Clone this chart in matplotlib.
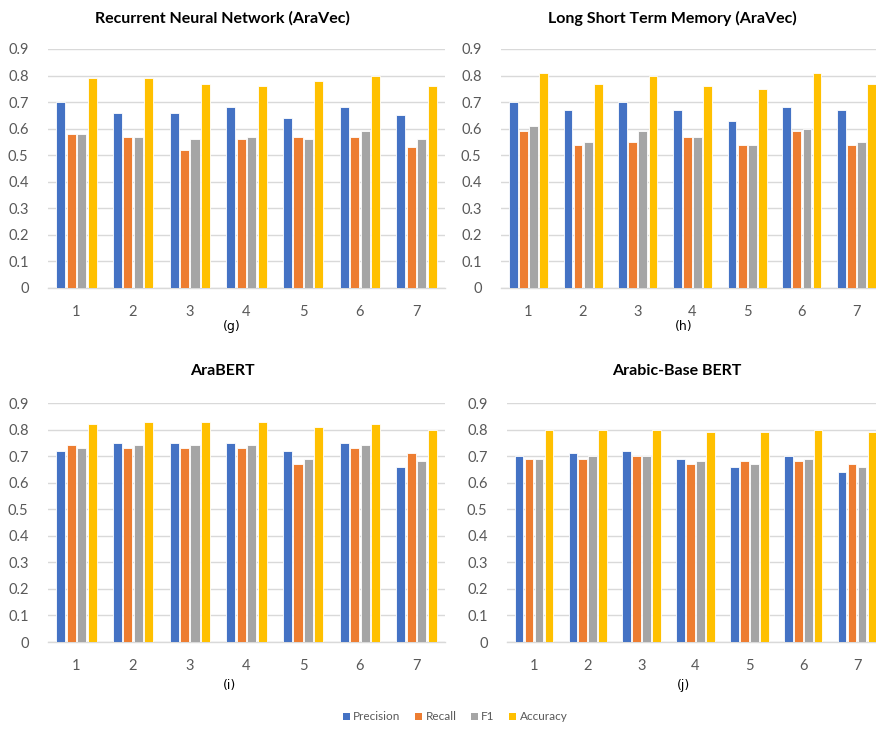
import matplotlib
matplotlib.use("Agg")
import matplotlib.pyplot as plt
from matplotlib.patches import Patch
import numpy as np

plt.rcParams['font.family'] = ['Lato', 'DejaVu Sans']

categories = ["1", "2", "3", "4", "5", "6", "7"]
series_names = ["Precision", "Recall", "F1", "Accuracy"]
colors = ["#4472C4", "#ED7D31", "#A5A5A5", "#FFC000"]

rnn_precision = [0.70, 0.66, 0.66, 0.68, 0.64, 0.68, 0.65]
rnn_recall    = [0.58, 0.57, 0.52, 0.56, 0.57, 0.57, 0.53]
rnn_f1        = [0.58, 0.57, 0.56, 0.57, 0.56, 0.59, 0.56]
rnn_accuracy  = [0.79, 0.79, 0.77, 0.76, 0.78, 0.80, 0.76]

lstm_precision = [0.70, 0.67, 0.70, 0.67, 0.63, 0.68, 0.67]
lstm_recall    = [0.59, 0.54, 0.55, 0.57, 0.54, 0.59, 0.54]
lstm_f1        = [0.61, 0.55, 0.59, 0.57, 0.54, 0.60, 0.55]
lstm_accuracy  = [0.81, 0.77, 0.80, 0.76, 0.75, 0.81, 0.77]

arabert_precision = [0.72, 0.75, 0.75, 0.75, 0.72, 0.75, 0.66]
arabert_recall    = [0.74, 0.73, 0.73, 0.73, 0.67, 0.73, 0.71]
arabert_f1        = [0.73, 0.74, 0.74, 0.74, 0.69, 0.74, 0.68]
arabert_accuracy  = [0.82, 0.83, 0.83, 0.83, 0.81, 0.82, 0.80]

abb_precision = [0.70, 0.71, 0.72, 0.69, 0.66, 0.70, 0.64]
abb_recall    = [0.69, 0.69, 0.70, 0.67, 0.68, 0.68, 0.67]
abb_f1        = [0.69, 0.70, 0.70, 0.68, 0.67, 0.69, 0.66]
abb_accuracy  = [0.80, 0.80, 0.80, 0.79, 0.79, 0.80, 0.79]

yticks = [0, 0.1, 0.2, 0.3, 0.4, 0.5, 0.6, 0.7, 0.8, 0.9]
ytick_labels = ["0", "0.1", "0.2", "0.3", "0.4", "0.5", "0.6", "0.7", "0.8", "0.9"]

panels = [
    ("Recurrent Neural Network (AraVec)", "(g)",
     [rnn_precision, rnn_recall, rnn_f1, rnn_accuracy]),
    ("Long Short Term Memory (AraVec)", "(h)",
     [lstm_precision, lstm_recall, lstm_f1, lstm_accuracy]),
    ("AraBERT", "(i)",
     [arabert_precision, arabert_recall, arabert_f1, arabert_accuracy]),
    ("Arabic-Base BERT", "(j)",
     [abb_precision, abb_recall, abb_f1, abb_accuracy]),
]

W, H = 876, 730
fig = plt.figure(figsize=(W / 100, H / 100), dpi=100)

# axes rectangles in pixels: (left, right, top, bottom)
rects = [
    (48, 445, 49, 288),
    (501, 884, 49, 288),
    (48, 445, 403, 642),
    (507, 884, 403, 642),
]
title_pos = [(222, 18), (672, 18), (222, 371), (677, 371)]
sub_pos = [(232, 326), (684, 326), (230, 686), (683, 686)]

x = np.arange(len(categories))
step = 0.185
width = 0.16

for (title, sub, data), (l, r, t, b), (tx, ty), (sx, sy) in zip(panels, rects, title_pos, sub_pos):
    ax = fig.add_axes([l / W, 1 - b / H, (r - l) / W, (b - t) / H])
    for i, (vals, c) in enumerate(zip(data, colors)):
        ax.bar(x + (i - 1.5) * step, vals, width=width, color=c,
               edgecolor="white", linewidth=0.6, zorder=3)
    ax.set_xlim(-0.5, len(categories) - 0.5)
    ax.set_ylim(0, 0.9)
    ax.set_yticks(yticks)
    ax.set_yticklabels(ytick_labels)
    ax.set_xticks(x)
    ax.set_xticklabels(categories)
    ax.yaxis.grid(True, color="#D9D9D9", linewidth=1.0, zorder=0)
    ax.set_axisbelow(True)
    for s in ["top", "right", "left"]:
        ax.spines[s].set_visible(False)
    ax.spines["bottom"].set_color("#D9D9D9")
    ax.spines["bottom"].set_linewidth(1.0)
    ax.tick_params(axis="both", length=0, labelsize=10.5, colors="#595959")
    ax.tick_params(axis="y", pad=14)
    ax.tick_params(axis="x", pad=12)
    fig.text(tx / W, 1 - ty / H, title, ha="center", va="center",
             fontsize=11.5, fontweight="bold", color="#000000")
    fig.text(sx / W, 1 - sy / H, sub, ha="center", va="center",
             fontsize=9, color="#000000", family=["DejaVu Sans"])

handles = [Patch(facecolor=c, edgecolor="none") for c in colors]
fig.legend(handles, series_names, loc="center", bbox_to_anchor=(455 / W, 1 - 717 / H),
           ncol=4, frameon=False, fontsize=8.5, handlelength=0.6, handleheight=0.6,
           handletextpad=0.3, columnspacing=1.2, labelcolor="#595959")

fig.savefig("out.png", dpi=100, facecolor="white")
